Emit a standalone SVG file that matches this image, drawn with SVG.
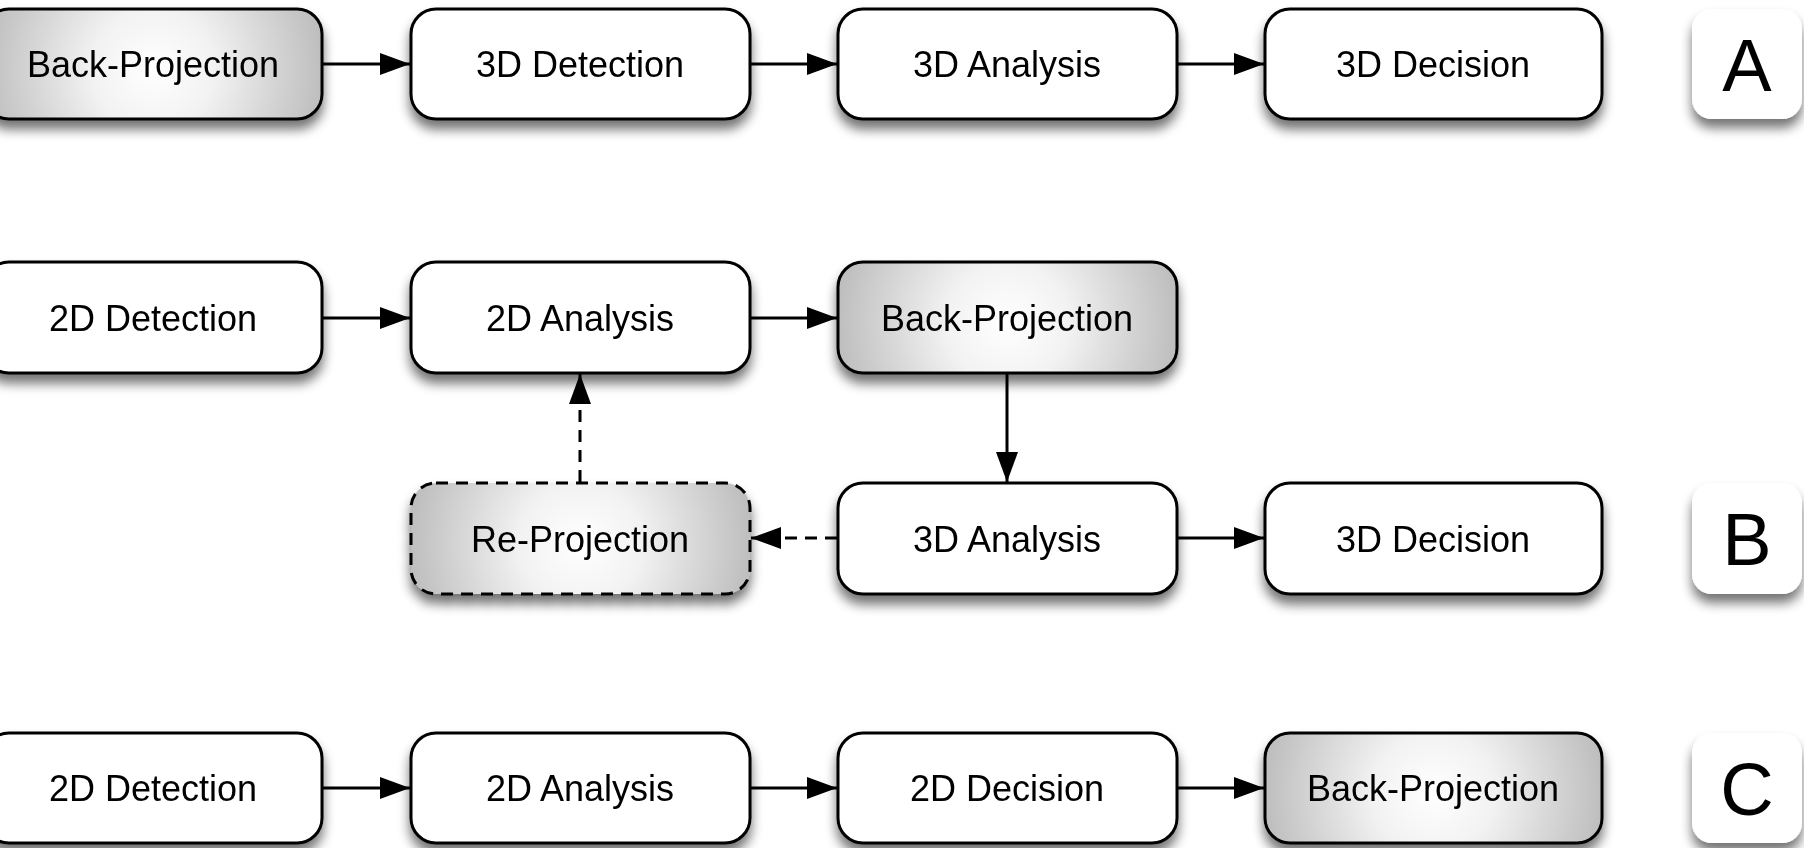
<svg xmlns="http://www.w3.org/2000/svg" width="1804" height="848" viewBox="0 0 1804 848">
<defs>
<style>
.node{stroke:#000;stroke-width:3;fill:#fff}
.shade{fill:url(#grad)}
.dash{stroke-dasharray:12 8}
.lbl{fill:#fff;stroke:none}
.t{font-family:"Liberation Sans",Arial,sans-serif;font-size:36px;fill:#000;text-anchor:middle}
.big{font-family:"Liberation Sans",Arial,sans-serif;font-size:74px;fill:#000;text-anchor:middle}
.edge{stroke:#000;stroke-width:3;fill:none}
</style>
<radialGradient id="grad" cx="0.5" cy="0.55" r="0.72" gradientTransform="translate(0.5,0.55) scale(1,3.07) translate(-0.5,-0.55)">
<stop offset="0" stop-color="#ffffff"/>
<stop offset="0.25" stop-color="#f2f2f2"/>
<stop offset="0.75" stop-color="#b8b8b8"/>
<stop offset="1" stop-color="#9a9a9a"/>
</radialGradient>
<filter id="sh" x="-10%" y="-20%" width="120%" height="160%">
<feGaussianBlur in="SourceAlpha" stdDeviation="6"/>
<feOffset dx="0" dy="9" result="b"/>
<feComponentTransfer><feFuncA type="linear" slope="0.55"/></feComponentTransfer>
<feMerge><feMergeNode/><feMergeNode in="SourceGraphic"/></feMerge>
</filter>
<marker id="ah" markerUnits="userSpaceOnUse" markerWidth="30" markerHeight="22" refX="30" refY="11" orient="auto">
<path d="M0,0 L30,11 L0,22 z" fill="#000"/>
</marker>
</defs>
<rect width="1804" height="848" fill="#fff"/>

<!-- Row A -->
<g id="a1" filter="url(#sh)"><rect class="node shade" x="-16" y="9" width="338" height="110" rx="25"/><text class="t" x="153" y="77">Back-Projection</text></g>
<g id="a2" filter="url(#sh)"><rect class="node" x="411" y="9" width="339" height="110" rx="25"/><text class="t" x="580" y="77">3D Detection</text></g>
<g id="a3" filter="url(#sh)"><rect class="node" x="838" y="9" width="339" height="110" rx="25"/><text class="t" x="1007" y="77">3D Analysis</text></g>
<g id="a4" filter="url(#sh)"><rect class="node" x="1265" y="9" width="337" height="110" rx="25"/><text class="t" x="1433" y="77">3D Decision</text></g>
<g id="labA" filter="url(#sh)"><rect class="lbl" x="1692" y="9" width="110" height="110" rx="20"/><text class="big" x="1747" y="91">A</text></g>

<!-- Row B -->
<g id="b1" filter="url(#sh)"><rect class="node" x="-16" y="262" width="338" height="111" rx="25"/><text class="t" x="153" y="331">2D Detection</text></g>
<g id="b2" filter="url(#sh)"><rect class="node" x="411" y="262" width="339" height="111" rx="25"/><text class="t" x="580" y="331">2D Analysis</text></g>
<g id="b3" filter="url(#sh)"><rect class="node shade" x="838" y="262" width="339" height="111" rx="25"/><text class="t" x="1007" y="331">Back-Projection</text></g>
<g id="b4" filter="url(#sh)"><rect class="node shade dash" x="411" y="483" width="339" height="111" rx="25"/><text class="t" x="580" y="552">Re-Projection</text></g>
<g id="b5" filter="url(#sh)"><rect class="node" x="838" y="483" width="339" height="111" rx="25"/><text class="t" x="1007" y="552">3D Analysis</text></g>
<g id="b6" filter="url(#sh)"><rect class="node" x="1265" y="483" width="337" height="111" rx="25"/><text class="t" x="1433" y="552">3D Decision</text></g>
<g id="labB" filter="url(#sh)"><rect class="lbl" x="1692" y="483" width="110" height="111" rx="20"/><text class="big" x="1747" y="565">B</text></g>

<!-- Row C -->
<g id="c1" filter="url(#sh)"><rect class="node" x="-16" y="733" width="338" height="110" rx="25"/><text class="t" x="153" y="801">2D Detection</text></g>
<g id="c2" filter="url(#sh)"><rect class="node" x="411" y="733" width="339" height="110" rx="25"/><text class="t" x="580" y="801">2D Analysis</text></g>
<g id="c3" filter="url(#sh)"><rect class="node" x="838" y="733" width="339" height="110" rx="25"/><text class="t" x="1007" y="801">2D Decision</text></g>
<g id="c4" filter="url(#sh)"><rect class="node shade" x="1265" y="733" width="337" height="110" rx="25"/><text class="t" x="1433" y="801">Back-Projection</text></g>
<g id="labC" filter="url(#sh)"><rect class="lbl" x="1692" y="733" width="110" height="110" rx="20"/><text class="big" x="1747" y="815">C</text></g>

<g id="connectors">
<line class="edge" x1="323" y1="64" x2="410" y2="64" marker-end="url(#ah)"/>
<line class="edge" x1="751" y1="64" x2="837" y2="64" marker-end="url(#ah)"/>
<line class="edge" x1="1178" y1="64" x2="1264" y2="64" marker-end="url(#ah)"/>

<line class="edge" x1="323" y1="318" x2="410" y2="318" marker-end="url(#ah)"/>
<line class="edge" x1="751" y1="318" x2="837" y2="318" marker-end="url(#ah)"/>
<line class="edge" x1="1007" y1="374" x2="1007" y2="482" marker-end="url(#ah)"/>
<line class="edge dash" x1="837" y1="538" x2="751" y2="538" marker-end="url(#ah)"/>
<line class="edge dash" x1="580" y1="482" x2="580" y2="374" marker-end="url(#ah)"/>
<line class="edge" x1="1178" y1="538" x2="1264" y2="538" marker-end="url(#ah)"/>

<line class="edge" x1="323" y1="788" x2="410" y2="788" marker-end="url(#ah)"/>
<line class="edge" x1="751" y1="788" x2="837" y2="788" marker-end="url(#ah)"/>
<line class="edge" x1="1178" y1="788" x2="1264" y2="788" marker-end="url(#ah)"/>
</g>
</svg>
